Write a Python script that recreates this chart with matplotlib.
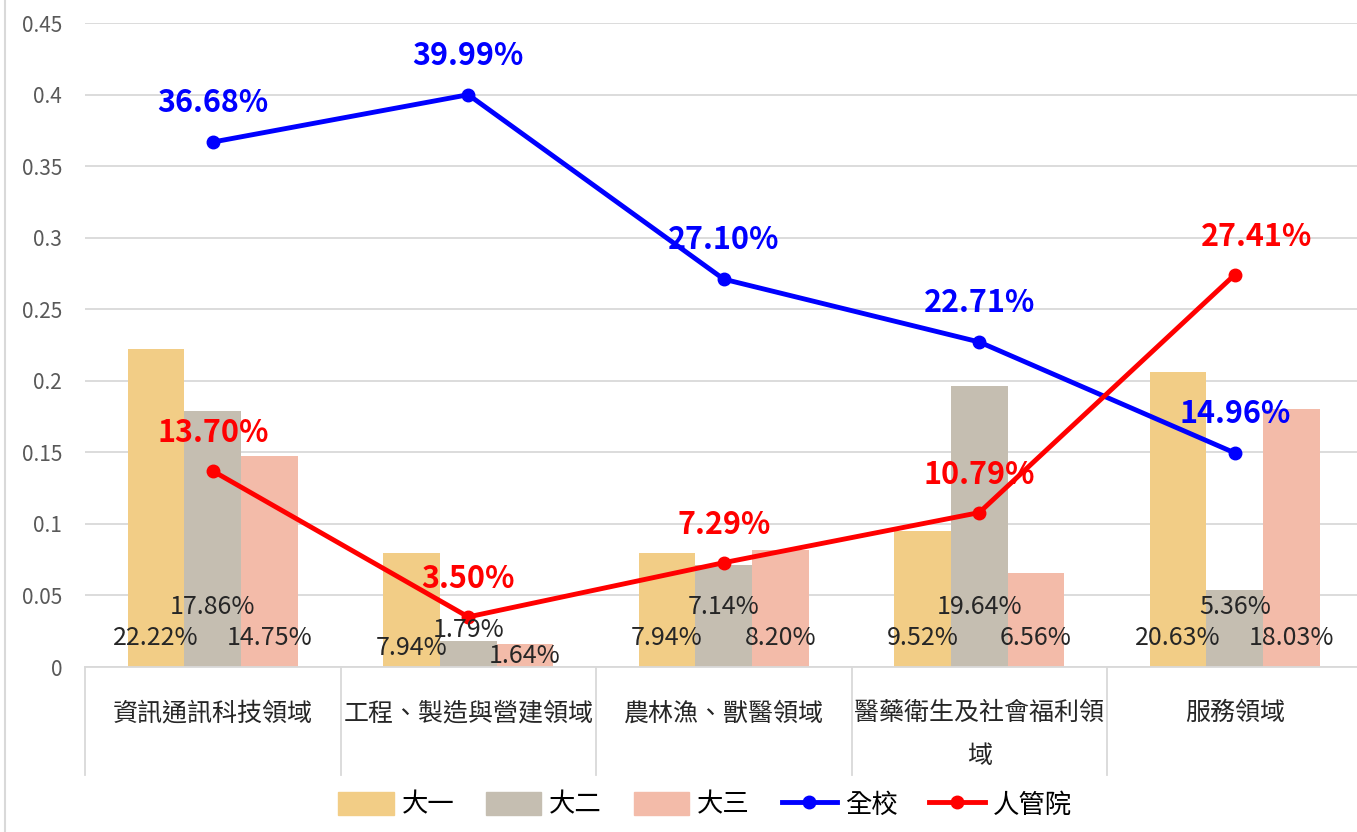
import numpy as np
import matplotlib
matplotlib.use("Agg")
import matplotlib.pyplot as plt
from matplotlib.lines import Line2D
from matplotlib.patches import Patch

plt.rcParams['font.family'] = ['Noto Sans CJK TC', 'DejaVu Sans']

# --- data ---
categories = ['資訊通訊科技領域', '工程、製造與營建領域', '農林漁、獸醫領域',
              '醫藥衛生及社會福利領\n域', '服務領域']
year1 = [0.2222, 0.0794, 0.0794, 0.0952, 0.2063]
year2 = [0.1786, 0.0179, 0.0714, 0.1964, 0.0536]
year3 = [0.1475, 0.0164, 0.0820, 0.0656, 0.1803]
whole_school = [0.3668, 0.3999, 0.2710, 0.2271, 0.1496]
college = [0.1370, 0.0350, 0.0729, 0.1079, 0.2741]
bar_names = ['大一', '大二', '大三']
line_names = ['全校', '人管院']

bar_colors = ['#F2CD86', '#C5BEB1', '#F3BBA9']
line_colors = ['#0000FF', '#FF0000']

W, H = 1357, 832
fig = plt.figure(figsize=(W / 100, H / 100), dpi=100)
ax = fig.add_axes([85 / W, 165 / H, 1277.5 / W, 644 / H])

x = np.arange(len(categories))
bw = 0.222
bar_series = [year1, year2, year3]
for i, (vals, c) in enumerate(zip(bar_series, bar_colors)):
    ax.bar(x + (i - 1) * bw, vals, width=bw, color=c, zorder=2)

# bar labels near the base (Excel "inside base")
label_y = [0.020, 0.042, 0.020]
label_y_cat2 = [0.013, 0.026, 0.008]
for i, vals in enumerate(bar_series):
    for j, v in enumerate(vals):
        yy = label_y_cat2[i] if j == 1 else label_y[i]
        ax.text(x[j] + (i - 1) * bw, yy, f'{v * 100:.2f}%', ha='center', va='center',
                fontsize=18, color='#262626', zorder=5)

# lines
for vals, c in zip([whole_school, college], line_colors):
    ax.plot(x, vals, color=c, lw=3.5, marker='o', markersize=9, zorder=4)

for j, v in enumerate(whole_school):
    ax.annotate(f'{v * 100:.2f}%', (x[j], v), xytext=(0, 28), textcoords='offset points',
                ha='center', va='center', fontsize=22, fontweight='bold',
                color=line_colors[0], zorder=6)
for j, v in enumerate(college):
    dx = 16 if j == 4 else 0
    ax.annotate(f'{v * 100:.2f}%', (x[j], v), xytext=(dx, 27), textcoords='offset points',
                ha='center', va='center', fontsize=22, fontweight='bold',
                color=line_colors[1], zorder=6)

ax.set_xlim(-0.5, len(categories) - 0.5)
ax.set_ylim(0, 0.45)
ax.set_yticks(np.arange(0, 0.451, 0.05))
ax.set_yticklabels(['0', '0.05', '0.1', '0.15', '0.2', '0.25', '0.3', '0.35', '0.4', '0.45'])
ax.tick_params(axis='y', length=0, pad=16.5, labelsize=15, labelcolor='#595959')
ax.grid(axis='y', color='#D9D9D9', lw=1.3, zorder=0)
ax.set_axisbelow(True)
for s in ['top', 'right', 'left']:
    ax.spines[s].set_visible(False)
ax.spines['bottom'].set_color('#D9D9D9')
ax.spines['bottom'].set_linewidth(1.3)

ax.set_xticks(x)
ax.set_xticklabels(categories, fontsize=18, color='#262626', linespacing=1.85, va='top')
ax.tick_params(axis='x', length=0, pad=24)

# category separators below the axis
for b in np.arange(-0.5, len(categories) + 0.5, 1.0):
    ax.plot([b, b], [0, -0.168], color='#D9D9D9', lw=1.3,
            transform=ax.get_xaxis_transform(), clip_on=False)

# chart area left border
fig.add_artist(Line2D([5 / W, 5 / W], [0, 1], color='#D9D9D9', lw=1.5))

handles = [Patch(color=c) for c in bar_colors] + \
          [Line2D([], [], color=c, lw=3.5, marker='o', markersize=9) for c in line_colors]
fig.legend(handles, bar_names + line_names, loc='center', bbox_to_anchor=(705 / W, 27 / H),
           ncol=5, frameon=False, fontsize=19, handlelength=2.1, handleheight=1.0,
           columnspacing=1.2, handletextpad=0.3)

fig.savefig('out.png', dpi=100)
